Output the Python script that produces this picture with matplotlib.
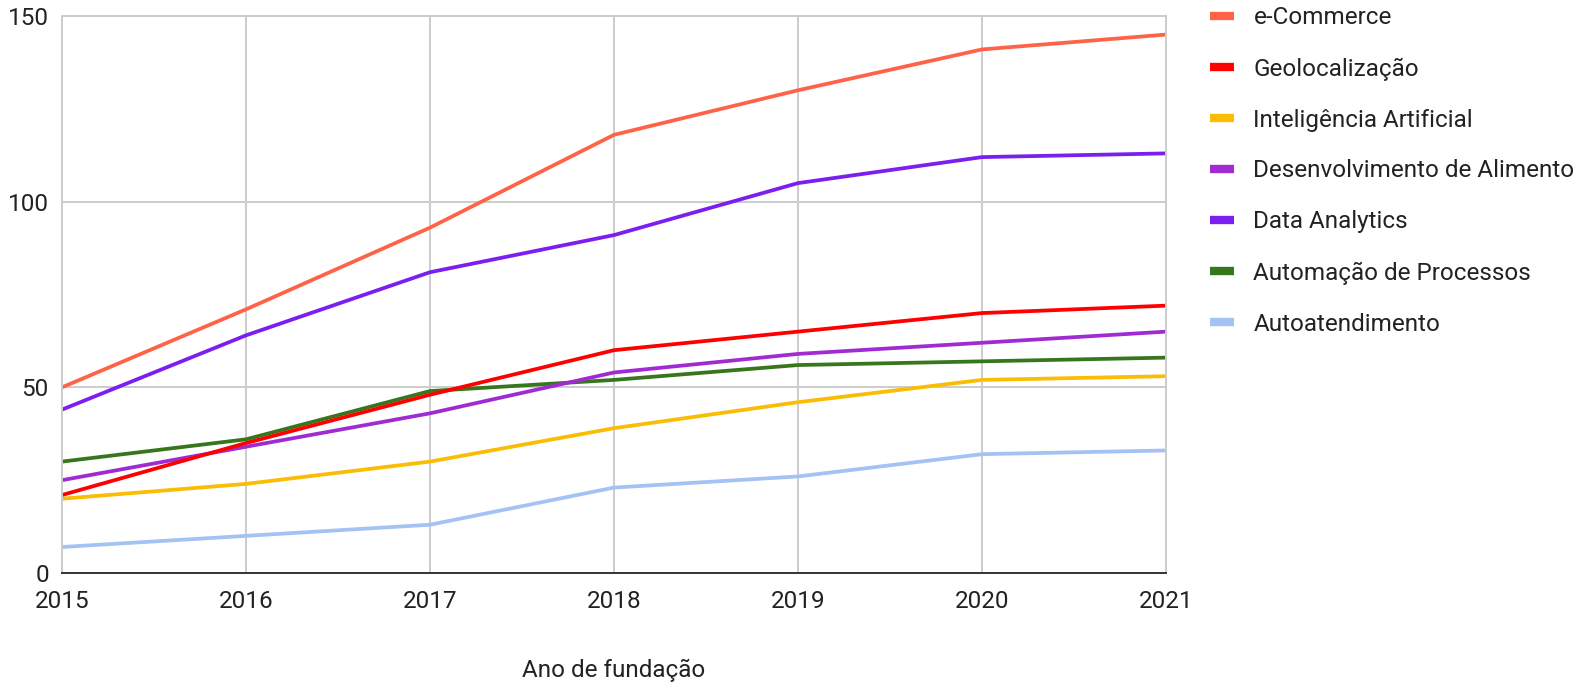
import matplotlib
matplotlib.use("Agg")
import matplotlib.pyplot as plt
from matplotlib.lines import Line2D

plt.rcParams['font.family'] = ['Roboto', 'DejaVu Sans']

years = [2015, 2016, 2017, 2018, 2019, 2020, 2021]

series_names = [
    "e-Commerce",
    "Geolocalização",
    "Inteligência Artificial",
    "Desenvolvimento de Alimento",
    "Data Analytics",
    "Automação de Processos",
    "Autoatendimento",
]

ecommerce = [50, 71, 93, 118, 130, 141, 145]
geolocalizacao = [21, 35, 48, 60, 65, 70, 72]
inteligencia_artificial = [20, 24, 30, 39, 46, 52, 53]
desenvolvimento_alimento = [25, 34, 43, 54, 59, 62, 65]
data_analytics = [44, 64, 81, 91, 105, 112, 113]
automacao_processos = [30, 36, 49, 52, 56, 57, 58]
autoatendimento = [7, 10, 13, 23, 26, 32, 33]

series_values = [ecommerce, geolocalizacao, inteligencia_artificial,
                 desenvolvimento_alimento, data_analytics,
                 automacao_processos, autoatendimento]

colors = ["#ff6347", "#ff0000", "#fbbc04", "#a12bd3", "#7a1ff0", "#38761d", "#a4c2f4"]

y_ticks = [0, 50, 100, 150]
x_label = "Ano de fundação"

FS = 17.5

fig = plt.figure(figsize=(15.95, 6.85), dpi=100)
ax = fig.add_axes([62 / 1595, 1 - 573 / 685, (1166 - 62) / 1595, (573 - 16) / 685])

text_color = "#222222"
grid_color = "#cccccc"

# draw in reverse so the first series sits on top
for name, vals, col in reversed(list(zip(series_names, series_values, colors))):
    ax.plot(years, vals, color=col, lw=2.7, solid_joinstyle='round', label=name)

ax.set_xlim(years[0], years[-1])
ax.set_ylim(y_ticks[0], y_ticks[-1])
ax.set_xticks(years)
ax.set_xticklabels([str(y) for y in years])
ax.set_yticks(y_ticks)

ax.grid(True, color=grid_color, lw=1.4)
ax.set_axisbelow(True)
for side in ["top", "right", "left"]:
    ax.spines[side].set_color(grid_color)
    ax.spines[side].set_linewidth(1.4)
ax.spines["bottom"].set_color("#333333")
ax.spines["bottom"].set_linewidth(1.4)
ax.spines["bottom"].set_zorder(5)

ax.tick_params(axis='both', length=0, labelsize=FS, labelcolor=text_color)
ax.tick_params(axis='x', pad=12)
ax.tick_params(axis='y', pad=9.5)

ax.set_xlabel(x_label, fontsize=FS, color=text_color, labelpad=33)

handles = [Line2D([0], [0], color=c, lw=6, solid_capstyle='butt') for c in colors]
leg = fig.legend(handles, series_names, loc='upper left',
                 bbox_to_anchor=(1208 / 1595, 1 - 4 / 685),
                 frameon=False, fontsize=FS, labelspacing=1.15,
                 handlelength=0.95, handletextpad=0.82, borderaxespad=0,
                 borderpad=0.1)
for t in leg.get_texts():
    t.set_color(text_color)

fig.savefig("out.png", dpi=100, facecolor="white")
